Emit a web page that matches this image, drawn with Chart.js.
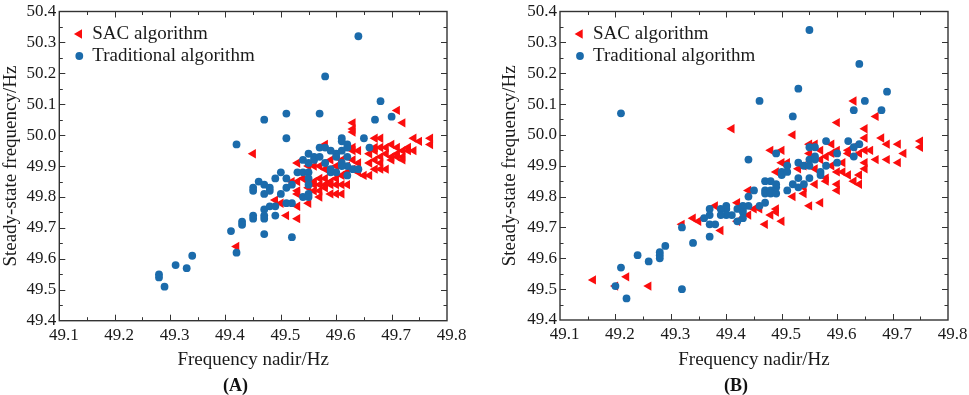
<!DOCTYPE html>
<html><head><meta charset="utf-8">
<script src="https://cdn.jsdelivr.net/npm/chart.js@4.4.1/dist/chart.umd.min.js"></script>
<style>
html,body{margin:0;padding:0;background:#fff;}
#wrap{position:relative;width:969px;height:395px;overflow:hidden;background:#fff;}
.pane{position:absolute;top:0;height:395px;}
.lab{position:absolute;font:bold 18px "Liberation Serif",serif;color:#111;line-height:20px;white-space:nowrap;}
</style></head><body>
<div id="wrap">
<div class="pane" style="left:0;width:484px"><canvas id="cA" width="484" height="395"></canvas></div>
<div class="pane" style="left:484px;width:485px"><canvas id="cB" width="485" height="395"></canvas></div>
<div class="lab" style="left:223px;top:375px">(A)</div>
<div class="lab" style="left:724px;top:375px">(B)</div>
</div>
<script>
// ---- data ----
const xTickValues = [49.1,49.2,49.3,49.4,49.5,49.6,49.7,49.8];
const yTickValues = [49.4,49.5,49.6,49.7,49.8,49.9,50.0,50.1,50.2,50.3,50.4];
const seriesNames = ['SAC algorithm','Traditional algorithm'];
const xTitle = 'Frequency nadir/Hz';
const yTitle = 'Steady-state frequency/Hz';

const sacA = [[49.71,50.08],[49.72,50.04],[49.63,50.04],[49.63,50.02],[49.63,50.01],[49.45,49.94],[49.42,49.64],
[49.77,49.99],[49.77,49.97],[49.75,49.98],[49.74,49.99],[49.73,49.96],[49.74,49.95],[49.73,49.95],[49.72,49.95],[49.72,49.93],[49.72,49.92],
[49.71,49.96],[49.71,49.94],[49.71,49.93],[49.70,49.97],[49.70,49.93],[49.70,49.92],[49.69,49.96],[49.69,49.94],[49.69,49.89],
[49.68,49.99],[49.68,49.96],[49.68,49.93],[49.68,49.91],[49.68,49.89],[49.67,49.99],[49.67,49.96],[49.67,49.95],[49.67,49.92],[49.67,49.89],
[49.66,49.94],[49.66,49.91],[49.66,49.87],[49.65,49.87],[49.64,49.95],[49.63,49.95],[49.63,49.96],
[49.64,49.88],[49.63,49.89],[49.62,49.88],[49.61,49.92],[49.60,49.90],[49.59,49.92],[49.58,49.97],[49.62,49.84],[49.61,49.84],[49.60,49.84],
[49.59,49.84],[49.58,49.84],[49.57,49.84],[49.61,49.81],[49.60,49.81],[49.59,49.81],[49.60,49.86],[49.58,49.86],[49.57,49.86],[49.56,49.85],
[49.56,49.84],[49.56,49.82],[49.57,49.82],[49.57,49.80],[49.58,49.83],[49.59,49.85],[49.55,49.90],[49.56,49.90],[49.57,49.90],[49.58,49.89],
[49.55,49.85],[49.55,49.83],[49.55,49.78],[49.53,49.91],[49.53,49.85],[49.53,49.82],[49.53,49.81],[49.53,49.77],[49.53,49.73],[49.52,49.85],
[49.51,49.74],[49.50,49.78],[49.49,49.79],[49.54,49.86],[49.60,49.88],[49.61,49.87],[49.62,49.90],[49.63,49.92],[49.64,49.91]];

const tradA = [[49.64,50.32],[49.58,50.19],[49.68,50.11],[49.70,50.06],[49.67,50.05],[49.47,50.05],[49.51,50.07],[49.57,50.07],
[49.51,49.99],[49.42,49.97],[49.65,49.99],[49.66,49.96],[49.61,49.99],[49.61,49.98],
[49.28,49.55],[49.28,49.54],[49.29,49.51],[49.31,49.58],[49.33,49.57],[49.34,49.61],[49.41,49.69],[49.42,49.62],[49.43,49.72],[49.43,49.71],
[49.45,49.74],[49.45,49.73],[49.45,49.83],[49.45,49.82],[49.46,49.85],[49.47,49.84],[49.47,49.81],[49.48,49.83],[49.48,49.82],[49.47,49.76],
[49.47,49.74],[49.47,49.73],[49.47,49.68],[49.48,49.77],[49.49,49.77],[49.49,49.74],[49.49,49.86],[49.50,49.88],[49.50,49.81],[49.51,49.86],
[49.51,49.83],[49.51,49.78],[49.52,49.84],[49.52,49.78],[49.52,49.67],[49.53,49.88],[49.54,49.88],[49.54,49.92],[49.54,49.80],[49.55,49.88],
[49.55,49.86],[49.55,49.84],[49.55,49.81],[49.55,49.80],[49.55,49.94],[49.55,49.91],[49.56,49.93],[49.57,49.96],[49.58,49.96],[49.58,49.91],
[49.59,49.95],[49.60,49.94],[49.61,49.95],[49.62,49.96],[49.62,49.93],[49.61,49.91],[49.62,49.90],[49.63,49.89],[49.64,49.89],[49.59,49.88],
[49.60,49.88],[49.62,49.87],[49.56,49.92],[49.57,49.93],[49.59,49.89],[49.60,49.93],[49.61,49.90],[49.62,49.97]];

const sacB = [[49.16,49.53],[49.20,49.51],[49.22,49.54],[49.26,49.51],[49.32,49.71],[49.34,49.73],[49.35,49.72],[49.38,49.77],[49.39,49.69],
[49.42,49.78],[49.42,49.72],[49.44,49.82],[49.44,49.74],[49.45,49.76],[49.46,49.76],[49.47,49.71],[49.48,49.74],[49.49,49.76],[49.49,49.75],
[49.50,49.72],[49.41,50.02],[49.48,49.95],[49.50,49.95],[49.52,50.00],[49.50,49.91],[49.51,49.91],[49.49,49.88],[49.52,49.80],[49.54,49.81],
[49.54,49.83],[49.55,49.77],[49.57,49.78],[49.56,49.84],[49.58,49.85],[49.58,49.86],[49.53,49.89],[49.55,49.94],[49.55,49.97],[49.57,49.95],
[49.59,49.94],[49.59,49.97],[49.60,50.04],[49.60,49.95],[49.60,49.88],[49.60,49.84],[49.60,49.82],[49.61,49.91],[49.61,49.88],[49.62,49.87],
[49.62,49.95],[49.63,50.11],[49.63,49.85],[49.64,49.84],[49.64,49.87],[49.64,49.94],[49.65,49.95],[49.65,49.99],[49.65,50.02],[49.65,49.91],
[49.65,49.89],[49.66,49.95],[49.67,50.06],[49.67,49.92],[49.68,49.99],[49.69,49.97],[49.69,49.92],[49.71,49.97],[49.71,49.91],[49.72,49.94],
[49.75,49.98],[49.75,49.96],[49.56,49.89],[49.57,49.92],[49.58,49.93],[49.56,49.97],[49.54,49.90],[49.62,49.94],[49.63,49.96],[49.59,49.90]];

const tradB = [[49.55,50.34],[49.64,50.23],[49.53,50.15],[49.46,50.11],[49.65,50.11],[49.69,50.14],[49.68,50.08],[49.63,50.08],[49.52,50.06],
[49.21,50.07],[49.44,49.92],[49.58,49.98],[49.62,49.98],[49.64,49.97],[49.63,49.96],[49.63,49.93],[49.55,49.96],[49.56,49.96],[49.49,49.94],
[49.60,49.94],[49.60,49.91],[49.58,49.90],[49.57,49.88],[49.57,49.87],[49.53,49.91],[49.54,49.90],[49.55,49.90],[49.55,49.92],[49.56,49.92],
[49.56,49.93],[49.55,49.86],[49.51,49.90],[49.50,49.88],[49.50,49.87],[49.51,49.88],[49.52,49.84],[49.53,49.83],[49.54,49.84],[49.53,49.86],
[49.51,49.82],[49.47,49.85],[49.48,49.85],[49.47,49.82],[49.47,49.81],[49.48,49.82],[49.48,49.81],[49.49,49.81],[49.49,49.83],[49.49,49.84],
[49.45,49.82],[49.44,49.80],[49.44,49.77],[49.43,49.77],[49.43,49.76],[49.42,49.76],[49.43,49.75],[49.47,49.78],[49.46,49.77],[49.42,49.72],
[49.43,49.73],[49.40,49.77],[49.40,49.76],[49.39,49.76],[49.40,49.74],[49.41,49.74],[49.39,49.74],[49.37,49.76],[49.37,49.74],[49.37,49.71],
[49.36,49.73],[49.38,49.71],[49.37,49.67],[49.34,49.65],[49.32,49.70],[49.29,49.64],[49.28,49.62],[49.28,49.61],[49.28,49.60],[49.26,49.59],
[49.24,49.61],[49.21,49.57],[49.20,49.51],[49.22,49.47],[49.32,49.50]];

// ---- styling ----
const RED = '#fb0d0d', BLUE = '#1b6bab', AXIS = '#333333', TXT = '#1a1a1a';
const SERIF = '"Liberation Serif", "Times New Roman", serif';
const TRI_R = 5.4, DOT_R = 3.9;

const frameTicks = {
  id: 'frameTicks',
  afterDraw(chart) {
    const {ctx, chartArea: a, scales: {x, y}} = chart;
    ctx.save();
    ctx.strokeStyle = AXIS; ctx.lineWidth = 1.4;
    ctx.strokeRect(a.left, a.top, a.right - a.left, a.bottom - a.top);
    ctx.lineWidth = 1;
    ctx.beginPath();
    const MAJ = 6, MIN = 3.5;
    xTickValues.forEach((v, i) => {
      const px = Math.round(x.getPixelForValue(v)) + 0.5;
      if (i > 0 && i < xTickValues.length - 1) {
        ctx.moveTo(px, a.bottom); ctx.lineTo(px, a.bottom - MAJ);
        ctx.moveTo(px, a.top); ctx.lineTo(px, a.top + MAJ);
      }
      if (i < xTickValues.length - 1) {
        const m = Math.round(x.getPixelForValue((v + xTickValues[i + 1]) / 2)) + 0.5;
        ctx.moveTo(m, a.bottom); ctx.lineTo(m, a.bottom - MIN);
        ctx.moveTo(m, a.top); ctx.lineTo(m, a.top + MIN);
      }
    });
    yTickValues.forEach((v, i) => {
      const py = Math.round(y.getPixelForValue(v)) + 0.5;
      if (i > 0 && i < yTickValues.length - 1) {
        ctx.moveTo(a.left, py); ctx.lineTo(a.left + MAJ, py);
        ctx.moveTo(a.right, py); ctx.lineTo(a.right - MAJ, py);
      }
      if (i < yTickValues.length - 1) {
        const m = Math.round(y.getPixelForValue((v + yTickValues[i + 1]) / 2)) + 0.5;
        ctx.moveTo(a.left, m); ctx.lineTo(a.left + MIN, m);
        ctx.moveTo(a.right, m); ctx.lineTo(a.right - MIN, m);
      }
    });
    ctx.stroke();
    // legend
    const lx = a.left + 20, ly1 = a.top + 22.5, ly2 = a.top + 44.5;
    const r = TRI_R;
    ctx.fillStyle = RED;
    ctx.beginPath();
    ctx.moveTo(lx - r, ly1);
    ctx.lineTo(lx + r / 2, ly1 - r * Math.sqrt(3) / 2);
    ctx.lineTo(lx + r / 2, ly1 + r * Math.sqrt(3) / 2);
    ctx.closePath(); ctx.fill();
    ctx.fillStyle = BLUE;
    ctx.beginPath(); ctx.arc(lx, ly2, DOT_R, 0, Math.PI * 2); ctx.fill();
    ctx.fillStyle = TXT;
    ctx.font = '19px ' + SERIF;
    ctx.textBaseline = 'middle'; ctx.textAlign = 'left';
    ctx.fillText(seriesNames[0], lx + 13, ly1);
    ctx.fillText(seriesNames[1], lx + 13, ly2);
    ctx.restore();
  }
};

function toPts(arr) { return arr.map(p => ({x: p[0], y: p[1]})); }

function makePanel(id, sac, trad, g) {
  new Chart(document.getElementById(id), {
    type: 'scatter',
    data: {
      datasets: [
        {label: seriesNames[0], data: toPts(sac), backgroundColor: RED, borderWidth: 0,
         pointStyle: 'triangle', pointRotation: -90, pointRadius: TRI_R, order: 1},
        {label: seriesNames[1], data: toPts(trad), backgroundColor: BLUE, borderWidth: 0,
         pointStyle: 'circle', pointRadius: DOT_R, order: 0}
      ]
    },
    options: {
      responsive: false, animation: false, devicePixelRatio: 1,
      layout: {padding: {left: g.padL, right: g.padR, top: g.top, bottom: 24}},
      plugins: {legend: {display: false}, tooltip: {enabled: false}},
      scales: {
        x: {
          type: 'linear', min: 49.1, max: 49.8, position: 'bottom',
          afterBuildTicks: s => { s.ticks = xTickValues.map(v => ({value: v})); },
          afterFit: s => { s.height = 371 - g.bottom; },
          grid: {display: false, drawTicks: false},
          border: {display: false},
          ticks: {color: TXT, font: {family: SERIF, size: 17, lineHeight: 1}, padding: 6, labelOffset: 4.5,
                  maxRotation: 0, autoSkip: false, callback: v => Number(v).toFixed(1)},
          title: {display: true, text: xTitle, color: TXT, font: {family: SERIF, size: 19}, padding: {top: 0, bottom: 0}}
        },
        y: {
          type: 'linear', min: 49.4, max: 50.4, position: 'left',
          afterBuildTicks: s => { s.ticks = yTickValues.map(v => ({value: v})); },
          afterFit: s => { s.width = g.left - g.padL; },
          grid: {display: false, drawTicks: false},
          border: {display: false},
          ticks: {color: TXT, font: {family: SERIF, size: 17, lineHeight: 1}, padding: 3,
                  autoSkip: false, callback: v => Number(v).toFixed(1)},
          title: {display: true, text: yTitle, color: TXT, font: {family: SERIF, size: 19}, padding: {top: 0, bottom: 0}}
        }
      }
    },
    plugins: [frameTicks]
  });
}

makePanel('cA', sacA, tradA, {left: 59.3, padL: 0, padR: 484 - 447, top: 9.5, bottom: 320.7});
makePanel('cB', sacB, tradB, {left: 76, padL: 15, padR: 485 - 464, top: 8, bottom: 320});
</script>
</body></html>
